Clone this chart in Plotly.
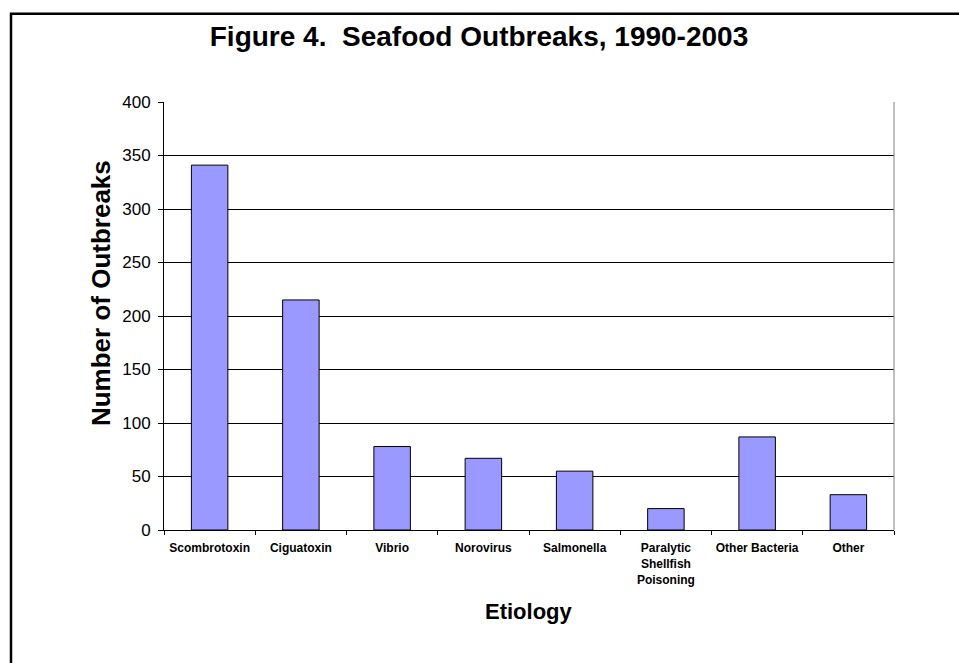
import plotly.graph_objects as go

categories = ["Scombrotoxin", "Ciguatoxin", "Vibrio", "Norovirus", "Salmonella",
              "Paralytic<br>Shellfish<br>Poisoning", "Other Bacteria", "Other"]
outbreaks = [341, 215, 78, 67, 55, 20, 87, 33]
y_ticks = [0, 50, 100, 150, 200, 250, 300, 350, 400]

FONT = "Arial, 'Liberation Sans', sans-serif"

fig = go.Figure()
fig.add_trace(go.Bar(
    x=categories, y=outbreaks,
    marker=dict(color="#9999FF", line=dict(color="black", width=1)),
    width=0.4,
))

W, H = 959, 663
L, R, T, B = 164, 65, 101.5, 132.5
pw, ph = W - L - R, H - T - B

def px_to_paper_x(px):
    return (px - L) / pw

def py_to_paper_y(py):
    return 1 - (py - T) / ph

fig.update_layout(
    width=W, height=H,
    margin=dict(l=L, r=R, t=T, b=B, pad=0),
    paper_bgcolor="white", plot_bgcolor="white",
    showlegend=False,
    font=dict(family=FONT, color="black"),
    title=dict(text="<b>Figure 4.&nbsp; Seafood Outbreaks, 1990-2003</b>",
               x=479 / W, xanchor="center", y=1 - 36 / H, yanchor="middle",
               font=dict(size=28, family=FONT, color="black")),
    xaxis=dict(
        tickfont=dict(size=12, family=FONT),
        tickprefix="<b>", ticksuffix="</b>",
        tickangle=0,
        ticklabelstandoff=7,
        showline=True, linecolor="black", linewidth=1,
        ticks="outside", ticklen=4, tickcolor="black", tickson="boundaries",
        showgrid=False, zeroline=False,
    ),
    yaxis=dict(
        range=[0, 400], tickvals=y_ticks,
        tickfont=dict(size=17, family=FONT),
        ticklabelstandoff=4,
        showline=True, linecolor="black", linewidth=1,
        ticks="outside", ticklen=5, tickcolor="black",
        showgrid=True, gridcolor="black", gridwidth=1,
        zeroline=False,
    ),
    annotations=[
        dict(text="<b>Etiology</b>", xref="paper", yref="paper",
             x=0.5, y=py_to_paper_y(612), xanchor="center", yanchor="middle",
             showarrow=False, font=dict(size=22, family=FONT, color="black")),
        dict(text="<b>Number of Outbreaks</b>", xref="paper", yref="paper",
             x=px_to_paper_x(101), y=py_to_paper_y(293), xanchor="center", yanchor="middle",
             textangle=-90, showarrow=False, font=dict(size=26, family=FONT, color="black")),
    ],
    shapes=[
        # outer frame (left and top edges visible)
        dict(type="rect", xref="paper", yref="paper",
             x0=px_to_paper_x(11), x1=px_to_paper_x(1000),
             y0=py_to_paper_y(700), y1=py_to_paper_y(13),
             line=dict(color="black", width=2.5), fillcolor="rgba(0,0,0,0)", layer="above"),
        # right edge of plot area
        dict(type="line", xref="paper", yref="paper", x0=1, x1=1, y0=0, y1=1,
             line=dict(color="#808080", width=1)),
    ],
)

fig.write_html("out.html")
